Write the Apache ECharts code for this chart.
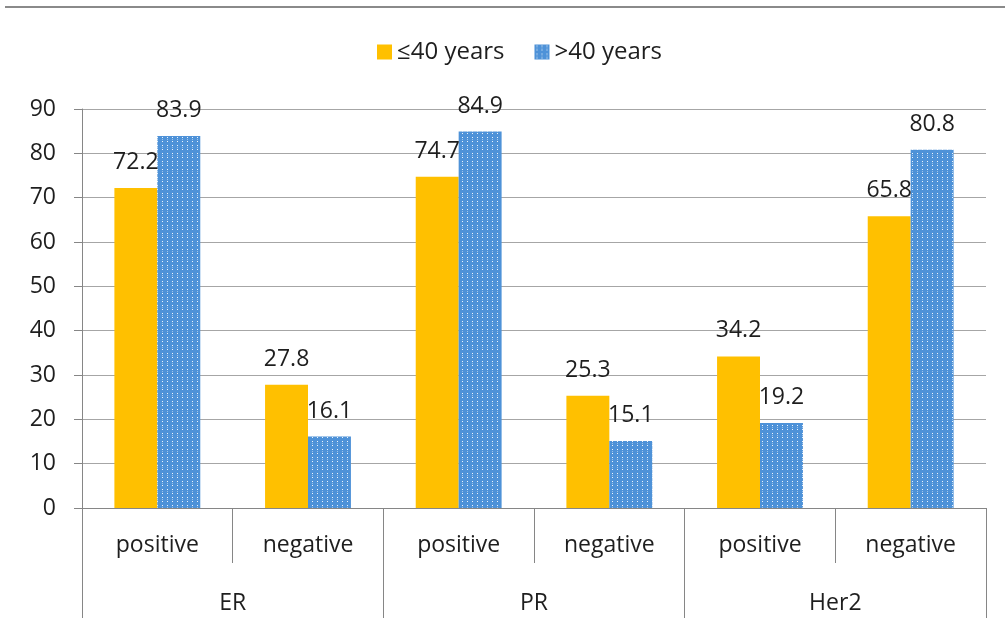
<!DOCTYPE html>
<html>
<head>
<meta charset="utf-8">
<script src="https://cdn.jsdelivr.net/npm/echarts@6/dist/echarts.min.js"></script>
<style>
html,body{margin:0;padding:0;background:#fff;}
#chart{width:1005px;height:629px;}
</style>
</head>
<body>
<div id="chart"></div>
<script>
const subCategories = ['positive', 'negative', 'positive', 'negative', 'positive', 'negative'];
const groupCategories = ['ER', 'PR', 'Her2'];
const seriesNames = ['≤40 years', '>40 years'];
const young = [72.2, 27.8, 74.7, 25.3, 34.2, 65.8];
const old = [83.9, 16.1, 84.9, 15.1, 19.2, 80.8];
const yTicks = { min: 0, max: 90, interval: 10 };

// dotted blue pattern
const pc = document.createElement('canvas');
pc.width = 5; pc.height = 8;
const ctx = pc.getContext('2d');
ctx.fillStyle = '#4E92D8';
ctx.fillRect(0, 0, 5, 8);
ctx.fillStyle = 'rgba(255,255,255,0.9)';
ctx.fillRect(2, 1, 1, 1);
ctx.fillRect(2, 5, 1, 1);
ctx.fillStyle = 'rgba(255,255,255,0.45)';
ctx.fillRect(2, 3, 1, 1);

const FONT = '"Open Sans", sans-serif';
const TXT = '#1e1e1e';
const AX = '#868686';

const chart = echarts.init(document.getElementById('chart'), null, { renderer: 'canvas' });
chart.setOption({
  animation: false,
  backgroundColor: '#fff',
  textStyle: { fontFamily: FONT },
  graphic: [{
    type: 'line',
    shape: { x1: 5, y1: 7, x2: 1005, y2: 7 },
    style: { stroke: '#8a8a8a', lineWidth: 2 }
  }],
  legend: {
    top: 35,
    left: 372,
    itemWidth: 15,
    itemHeight: 15,
    itemGap: 30,
    icon: 'rect',
    textStyle: { fontSize: 24, color: TXT, fontFamily: FONT },
    data: seriesNames
  },
  grid: { left: 82, right: 19, top: 109, bottom: 121, containLabel: false },
  xAxis: [{
    type: 'category',
    data: subCategories,
    position: 'bottom',
    axisLine: { show: true, lineStyle: { color: AX, width: 1 } },
    axisTick: { show: true, interval: 0, length: 55, lineStyle: { color: AX } },
    axisLabel: { interval: 0, margin: 26, fontSize: 23, color: TXT, fontFamily: FONT },
    splitLine: { show: false }
  }, {
    type: 'category',
    data: groupCategories,
    position: 'bottom',
    axisLine: { show: true, lineStyle: { color: AX, width: 1 } },
    axisTick: { show: true, interval: 0, length: 110, lineStyle: { color: AX } },
    axisLabel: { interval: 0, margin: 84, fontSize: 23, color: TXT, fontFamily: FONT },
    splitLine: { show: false }
  }],
  yAxis: {
    type: 'value',
    min: yTicks.min,
    max: yTicks.max,
    interval: yTicks.interval,
    axisLine: { show: true, lineStyle: { color: AX } },
    axisTick: { show: true, length: 8, lineStyle: { color: AX } },
    axisLabel: { fontSize: 23, color: TXT, margin: 26, fontFamily: FONT },
    splitLine: { show: true, lineStyle: { color: '#a6a6a6', width: 1 } }
  },
  series: [{
    name: seriesNames[0],
    type: 'bar',
    xAxisIndex: 0,
    data: young,
    barGap: '0%',
    barCategoryGap: '43%',
    itemStyle: { color: '#FFC000' },
    label: { show: true, position: 'top', distance: 14, fontSize: 23, color: TXT, fontFamily: FONT }
  }, {
    name: seriesNames[1],
    type: 'bar',
    xAxisIndex: 0,
    data: old,
    barGap: '0%',
    barCategoryGap: '43%',
    itemStyle: { color: { image: pc, repeat: 'repeat' } },
    label: { show: true, position: 'top', distance: 14, fontSize: 23, color: TXT, fontFamily: FONT }
  }]
});
</script>
</body>
</html>
